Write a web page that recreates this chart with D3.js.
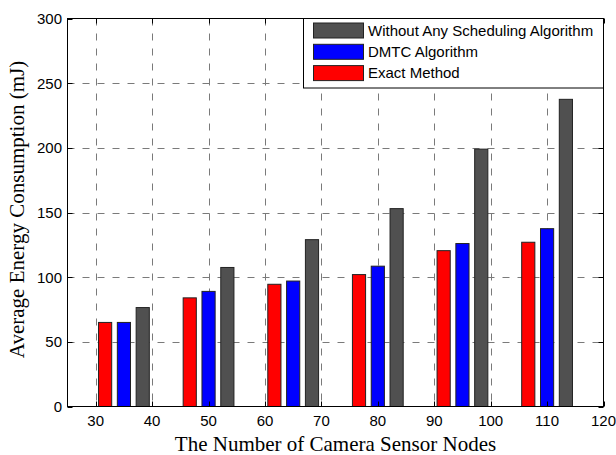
<!DOCTYPE html>
<html>
<head>
<meta charset="utf-8">
<script src="https://cdn.jsdelivr.net/npm/d3@7"></script>
<style>
  html, body { margin: 0; padding: 0; background: #fff; }
  svg { display: block; }
</style>
</head>
<body>
<svg id="chart" width="616" height="455"></svg>
<script>
const nodeCounts = [35, 50, 65, 80, 95, 110];
const seriesNames = ["Exact Method", "DMTC Algorithm", "Without Any Scheduling Algorithm"];
const exactMethod = [65, 84, 94.5, 102, 120.5, 127];
const dmtcAlgorithm = [65, 89, 97, 108.5, 126, 137.5];
const withoutScheduling = [76.5, 107.5, 129, 153, 199, 237.5];
const seriesColors = ["#ff0000", "#0000ff", "#505050"];
const xTicks = [30, 40, 50, 60, 70, 80, 90, 100, 110, 120];
const yTicks = [0, 50, 100, 150, 200, 250, 300];
const legendOrder = ["Without Any Scheduling Algorithm", "DMTC Algorithm", "Exact Method"];

const series = [exactMethod, dmtcAlgorithm, withoutScheduling];

const svg = d3.select("#chart");
const L = 67.5, R = 603.5, T = 18.5, B = 406.5;

const x = d3.scaleLinear().domain([25, 120]).range([L, R]);
const y = d3.scaleLinear().domain([0, 300]).range([B, T]);

// grid
const grid = svg.append("g").attr("stroke", "#7a7a7a").attr("stroke-width", 1)
  .attr("stroke-dasharray", "7,8").attr("fill", "none");
xTicks.forEach(t => {
  if (t === 120) return;
  const px = Math.round(x(t)) + 0.5;
  grid.append("line").attr("x1", px).attr("x2", px).attr("y1", T).attr("y2", B);
});
yTicks.forEach(t => {
  if (t === 0 || t === 300) return;
  const py = Math.round(y(t)) + 0.5;
  grid.append("line").attr("x1", L).attr("x2", R).attr("y1", py).attr("y2", py);
});

// bars
const slot = 10 / 3;
const barW = slot * 0.7;
const bars = svg.append("g");
series.forEach((vals, si) => {
  bars.selectAll(null).data(vals.map((v, i) => ({ g: nodeCounts[i], v })))
    .enter().append("rect")
    .attr("x", d => x(d.g + (si - 1) * slot - barW / 2))
    .attr("width", d => x(d.g + barW / 2) - x(d.g - barW / 2))
    .attr("y", d => y(d.v))
    .attr("height", d => y(0) - y(d.v))
    .attr("fill", seriesColors[si])
    .attr("stroke", "#222")
    .attr("stroke-width", 1);
});

// axes box
svg.append("rect").attr("x", L).attr("y", T).attr("width", R - L).attr("height", B - T)
  .attr("fill", "none").attr("stroke", "#000").attr("stroke-width", 1);

// ticks (inward, mirrored)
const tk = svg.append("g").attr("stroke", "#000").attr("stroke-width", 1);
xTicks.forEach(t => {
  const px = Math.round(x(t)) + 0.5;
  tk.append("line").attr("x1", px).attr("x2", px).attr("y1", B).attr("y2", B - 5);
  tk.append("line").attr("x1", px).attr("x2", px).attr("y1", T).attr("y2", T + 5);
});
yTicks.forEach(t => {
  const py = Math.round(y(t)) + 0.5;
  tk.append("line").attr("x1", L).attr("x2", L + 5).attr("y1", py).attr("y2", py);
  tk.append("line").attr("x1", R).attr("x2", R - 5).attr("y1", py).attr("y2", py);
});

// tick labels
const tickFont = "'Liberation Sans', Arial, sans-serif";
svg.append("g").selectAll("text").data(xTicks).enter().append("text")
  .attr("x", d => x(d)).attr("y", 425.5)
  .attr("text-anchor", "middle").attr("font-family", tickFont).attr("font-size", 15)
  .attr("fill", "#000").text(d => d);
svg.append("g").selectAll("text").data(yTicks).enter().append("text")
  .attr("x", 62).attr("y", d => y(d) + 5.5)
  .attr("text-anchor", "end").attr("font-family", tickFont).attr("font-size", 15)
  .attr("fill", "#000").text(d => d);

// axis labels
const labelFont = "'Liberation Serif', 'Times New Roman', serif";
svg.append("text").attr("x", (L + R) / 2).attr("y", 451)
  .attr("text-anchor", "middle").attr("font-family", labelFont).attr("font-size", 21)
  .attr("fill", "#000").text("The Number of Camera Sensor Nodes");
svg.append("text").attr("transform", `translate(24,${(T + B) / 2 - 3}) rotate(-90)`)
  .attr("text-anchor", "middle").attr("font-family", labelFont).attr("font-size", 21)
  .attr("fill", "#000").text("Average Energy Consumption (mJ)");

// legend
const lg = svg.append("g");
lg.append("rect").attr("x", 303.5).attr("y", T).attr("width", R - 303.5).attr("height", 69.5)
  .attr("fill", "#fff").attr("stroke", "#000").attr("stroke-width", 1);
legendOrder.forEach((name, i) => {
  const si = seriesNames.indexOf(name);
  const cy = 30.5 + i * 21.3;
  lg.append("rect").attr("x", 313.5).attr("y", cy - 7.5).attr("width", 50).attr("height", 15)
    .attr("fill", seriesColors[si]).attr("stroke", "#222").attr("stroke-width", 1);
  lg.append("text").attr("x", 368).attr("y", cy + 5.3)
    .attr("font-family", tickFont).attr("font-size", 15).attr("fill", "#000").text(name);
});
</script>
</body>
</html>
